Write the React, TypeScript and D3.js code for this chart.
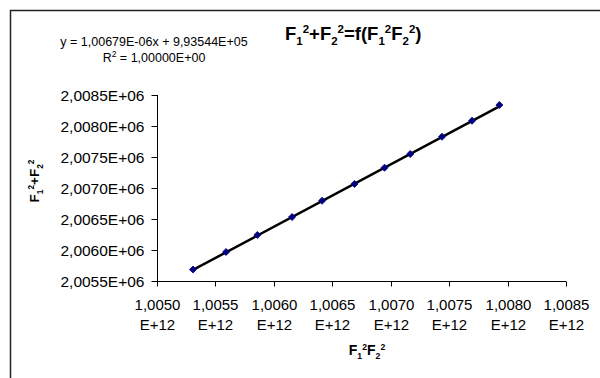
import React, { useEffect, useRef } from 'react';
import * as d3 from 'd3';

// measured points, F1²F2² vs F1²+F2²
const xValues = [
  1.005308e12, 1.005591e12, 1.005859e12, 1.006156e12, 1.006413e12, 1.00669e12,
  1.006947e12, 1.007167e12, 1.007439e12, 1.007696e12, 1.00793e12,
];
const yValues = [
  2.005685e6, 2.005968e6, 2.006242e6, 2.006532e6, 2.006795e6, 2.007065e6,
  2.007327e6, 2.007548e6, 2.007827e6, 2.008085e6, 2.008339e6,
];
const xTicks = [1.005e12, 1.0055e12, 1.006e12, 1.0065e12, 1.007e12, 1.0075e12, 1.008e12, 1.0085e12];
const yTicks = [2.0055e6, 2.006e6, 2.0065e6, 2.007e6, 2.0075e6, 2.008e6, 2.0085e6];
const slope = 1.00679e-6;
const intercept = 9.93544e5;

const equationText = 'y = 1,00679E-06x + 9,93544E+05';

// text pieces: 0 = normal, 1 = subscript, -1 = superscript
type Seg = [string, number];
const titleSegs: Seg[] = [
  ['F', 0], ['1', 1], ['2', -1], ['+F', 0], ['2', 1], ['2', -1],
  ['=f(F', 0], ['1', 1], ['2', -1], ['F', 0], ['2', 1], ['2', -1], [')', 0],
];
const yTitleSegs: Seg[] = [['F', 0], ['1', 1], ['2', -1], ['+F', 0], ['2', 1], ['2', -1]];
const xTitleSegs: Seg[] = [['F', 0], ['1', 1], ['2', -1], ['F', 0], ['2', 1], ['2', -1]];

const W = 600;
const H = 378;
const FONT = '"Liberation Sans", Arial, sans-serif';

const sci = (v: number, exp: number) =>
  (v / Math.pow(10, exp)).toFixed(4).replace('.', ',') + 'E+' + String(exp).padStart(2, '0');

const App: React.FC = () => {
  const svgRef = useRef<SVGSVGElement>(null);

  useEffect(() => {
    if (!svgRef.current) return;
    const svg = d3.select(svgRef.current);
    svg.selectAll('*').remove();

    const x = d3.scaleLinear().domain([1.005e12, 1.0085e12]).range([157, 566]);
    const y = d3.scaleLinear().domain([2.0055e6, 2.0085e6]).range([281, 95]);

    // outer chart frame (runs off the bottom/right)
    svg.append('rect')
      .attr('x', 10.5).attr('y', 10.5)
      .attr('width', W).attr('height', H)
      .attr('fill', 'none').attr('stroke', '#222').attr('stroke-width', 1.5);

    // writes text with sub/superscripts, fs = base size
    const segText = (g: d3.Selection<SVGTextElement, unknown, null, undefined>, segs: Seg[], fs: number) => {
      let level = 0;
      const small = fs * 0.62;
      const offs: Record<number, number> = { 0: 0, 1: fs * 0.28, [-1]: -fs * 0.38 };
      segs.forEach(([t, lv]) => {
        const ts = g.append('tspan').text(t);
        const dy = offs[lv] - offs[level];
        if (dy !== 0) ts.attr('dy', dy);
        if (lv !== 0) ts.attr('font-size', small);
        level = lv;
      });
    };

    // x axis
    const xAxis = svg.append('g').attr('transform', 'translate(0,281.5)');
    xAxis.append('line')
      .attr('x1', x(1.005e12)).attr('x2', x(1.0085e12))
      .attr('stroke', '#000');
    xTicks.forEach(t => {
      const px = Math.round(x(t)) + 0.5;
      xAxis.append('line').attr('x1', px).attr('x2', px).attr('y1', 0).attr('y2', 5).attr('stroke', '#000');
      const s = sci(t, 12);
      const txt = xAxis.append('text')
        .attr('text-anchor', 'middle')
        .attr('font-family', FONT).attr('font-size', 15).attr('fill', '#000');
      txt.append('tspan').attr('x', px).attr('y', 28).text(s.slice(0, 6));
      txt.append('tspan').attr('x', px).attr('y', 48).text(s.slice(6));
    });

    // y axis
    const yAxis = svg.append('g').attr('transform', 'translate(157.5,0)');
    yAxis.append('line')
      .attr('y1', y(2.0055e6)).attr('y2', y(2.0085e6))
      .attr('stroke', '#000');
    yTicks.forEach(t => {
      const py = Math.round(y(t)) + 0.5;
      yAxis.append('line').attr('x1', -6).attr('x2', 0).attr('y1', py).attr('y2', py).attr('stroke', '#000');
      yAxis.append('text')
        .attr('x', -13).attr('y', py).attr('dy', '0.36em')
        .attr('text-anchor', 'end')
        .attr('font-family', FONT).attr('font-size', 15.5).attr('fill', '#000')
        .text(sci(t, 6));
    });

    // trend line
    const x0 = d3.min(xValues) as number;
    const x1 = d3.max(xValues) as number;
    svg.append('line')
      .attr('x1', x(x0)).attr('y1', y(slope * x0 + intercept))
      .attr('x2', x(x1)).attr('y2', y(slope * x1 + intercept))
      .attr('stroke', '#000').attr('stroke-width', 2.5);

    // data markers (diamonds)
    const diamond = d3.symbol().type(d3.symbolDiamond2).size(32);
    svg.append('g').selectAll('path')
      .data(xValues.map((v, i) => [v, yValues[i]]))
      .enter().append('path')
      .attr('d', diamond)
      .attr('transform', d => `translate(${x(d[0])},${y(d[1])})`)
      .attr('fill', '#000080').attr('stroke', '#000080').attr('stroke-width', 0.8);

    // trendline equation
    svg.append('text')
      .attr('x', 154).attr('y', 46).attr('text-anchor', 'middle')
      .attr('font-family', FONT).attr('font-size', 12.5).attr('fill', '#000')
      .text(equationText);
    const r2 = svg.append('text')
      .attr('x', 154).attr('y', 62).attr('text-anchor', 'middle')
      .attr('font-family', FONT).attr('font-size', 12.5).attr('fill', '#000');
    r2.append('tspan').text('R');
    r2.append('tspan').attr('font-size', 8.5).attr('dy', -5).text('2');
    r2.append('tspan').attr('dy', 5).text(' = 1,00000E+00');

    // chart title
    const title = svg.append('text')
      .attr('x', 285).attr('y', 40)
      .attr('font-family', FONT).attr('font-size', 18.5).attr('font-weight', 'bold').attr('fill', '#000');
    segText(title, titleSegs, 18.5);

    // y axis title
    const yt = svg.append('text')
      .attr('transform', 'translate(39,181) rotate(-90)')
      .attr('text-anchor', 'middle')
      .attr('font-family', FONT).attr('font-size', 13.5).attr('font-weight', 'bold').attr('fill', '#000');
    segText(yt, yTitleSegs, 13.5);

    // x axis title
    const xt = svg.append('text')
      .attr('x', 367).attr('y', 355).attr('text-anchor', 'middle')
      .attr('font-family', FONT).attr('font-size', 14).attr('font-weight', 'bold').attr('fill', '#000');
    segText(xt, xTitleSegs, 14);
  }, []);

  return (
    <div style={{ position: 'absolute', left: 0, top: 0, width: W, height: H, background: '#fff' }}>
      <svg ref={svgRef} width={W} height={H} style={{ display: 'block' }} />
    </div>
  );
};

export default App;
